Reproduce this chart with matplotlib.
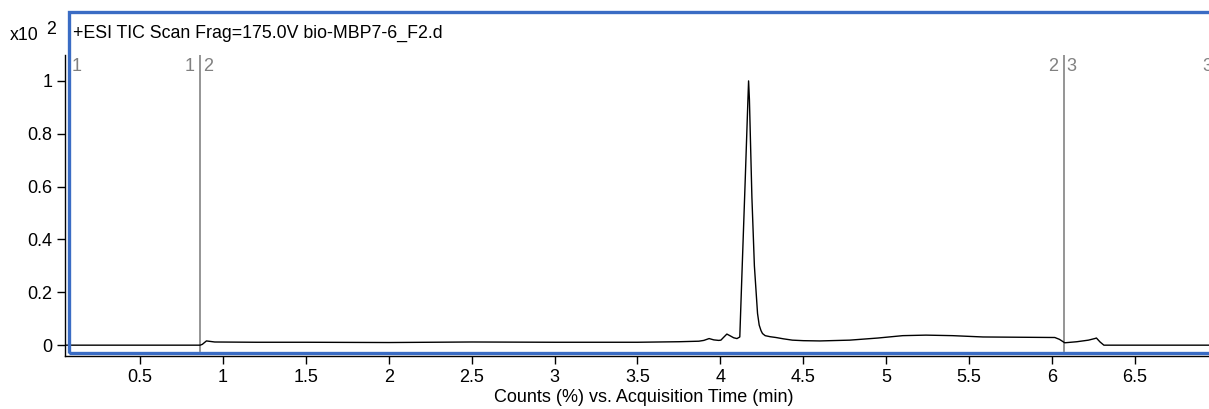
import numpy as np
import matplotlib.pyplot as plt
from matplotlib.patches import Rectangle

plt.rcParams["font.family"] = ["Liberation Sans", "DejaVu Sans"]

# TIC trace, acquisition time (min) vs counts (x10^2)
time_min = [0.047, 0.862, 0.875, 0.90, 0.95, 1.2, 1.5, 2.0, 2.5, 3.0, 3.5,
            3.75, 3.87, 3.90, 3.932, 3.96, 3.99, 4.003, 4.02, 4.039, 4.06,
            4.08, 4.10, 4.117, 4.13, 4.15, 4.165, 4.170, 4.175, 4.19, 4.205,
            4.224, 4.234, 4.245, 4.254, 4.27, 4.30, 4.335, 4.38, 4.434, 4.5,
            4.6, 4.78, 4.95, 5.1, 5.24, 5.4, 5.584, 5.8, 6.017, 6.045, 6.077,
            6.15, 6.22, 6.258, 6.268, 6.29, 6.313, 6.5, 6.947]
counts = [0.0, 0.0, 0.003, 0.016, 0.012, 0.011, 0.011, 0.010, 0.012, 0.011,
          0.011, 0.013, 0.015, 0.018, 0.025, 0.020, 0.018, 0.019, 0.030,
          0.042, 0.035, 0.028, 0.025, 0.031, 0.27, 0.63, 0.91, 1.0, 0.93,
          0.56, 0.30, 0.12, 0.076, 0.055, 0.044, 0.036, 0.032, 0.029, 0.024,
          0.019, 0.017, 0.016, 0.019, 0.027, 0.036, 0.038, 0.036, 0.031,
          0.030, 0.029, 0.022, 0.009, 0.013, 0.019, 0.025, 0.027, 0.012, 0.0,
          0.0, 0.0]

# segment boundaries and their labels
seg_lines = [0.07, 0.8626, 6.071]
seg_left_labels = [None, "1", "2"]
seg_right_labels = ["1", "2", "3"]

x_ticks = [0.5, 1, 1.5, 2, 2.5, 3, 3.5, 4, 4.5, 5, 5.5, 6, 6.5]
y_ticks = [0, 0.2, 0.4, 0.6, 0.8, 1]

W, H = 1209, 409
fig = plt.figure(figsize=(W / 100, H / 100), dpi=100)
ax = fig.add_axes([65 / W, 1 - 356 / H, 1 - 65 / W, 301 / H])

ax.plot(time_min, counts, color="black", linewidth=1.0, zorder=3)
for x in seg_lines:
    ax.axvline(x, ymin=0.015, ymax=1.0, color="#8c8c8c", linewidth=1.3, zorder=2)
for x, lab in zip(seg_lines, seg_left_labels):
    if lab:
        ax.annotate(lab, (x, 1.0), xycoords=("data", "axes fraction"),
                    xytext=(-4, -2), textcoords="offset points",
                    ha="right", va="top", fontsize=13, color="#808080")
for x, lab in zip(seg_lines, seg_right_labels):
    ax.annotate(lab, (x, 1.0), xycoords=("data", "axes fraction"),
                xytext=(2, -2), textcoords="offset points",
                ha="left", va="top", fontsize=13, color="#808080")
ax.annotate("3", (6.947, 1.0), xycoords=("data", "axes fraction"),
            xytext=(-5, -2), textcoords="offset points",
            ha="left", va="top", fontsize=13, color="#808080", annotation_clip=False)

ax.set_xlim(0.047, 6.947)
ax.set_ylim(-0.041, 1.098)
ax.set_xticks(x_ticks)
ax.set_xticklabels([f"{v:g}" for v in x_ticks])
ax.set_yticks(y_ticks)
ax.set_yticklabels([f"{v:g}" for v in y_ticks])
ax.tick_params(axis="both", direction="out", length=6, width=1, labelsize=13, pad=3)
for side in ["top", "right"]:
    ax.spines[side].set_visible(False)
ax.spines["left"].set_linewidth(1)
ax.spines["bottom"].set_linewidth(1)

# blue selection frame around the panel
fig.patches.append(Rectangle((68.5 / W, 1 - 353 / H), 1.2, 341 / H,
                             transform=fig.transFigure, fill=False,
                             edgecolor="#3a6cc4", linewidth=2.4, zorder=5))

fig.text(73 / W, 1 - 33 / H, "+ESI TIC Scan Frag=175.0V bio-MBP7-6_F2.d",
         ha="left", va="center", fontsize=12.8)
fig.text(10 / W, 1 - 36 / H, "x10", ha="left", va="center", fontsize=12.8)
fig.text(46 / W, 1 - 30 / H, "2", ha="left", va="center", fontsize=12.8)
fig.text(644 / W, 1 - 397 / H, "Counts (%) vs. Acquisition Time (min)",
         ha="center", va="center", fontsize=13)

fig.savefig("out.png", dpi=100)
